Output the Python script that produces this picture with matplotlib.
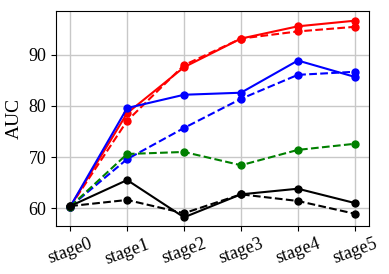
import matplotlib
matplotlib.use('Agg')
import matplotlib.pyplot as plt

stages = ['stage0', 'stage1', 'stage2', 'stage3', 'stage4', 'stage5']

red_solid = [60.3, 78.6, 87.6, 93.2, 95.6, 96.7]
red_dashed = [60.3, 77.1, 88.0, 93.2, 94.6, 95.5]
blue_solid = [60.3, 79.6, 82.2, 82.6, 88.9, 85.7]
blue_dashed = [60.3, 69.6, 75.7, 81.4, 86.1, 86.7]
green_dashed = [60.3, 70.6, 71.0, 68.4, 71.4, 72.6]
black_solid = [60.4, 65.5, 58.2, 62.7, 63.8, 61.0]
black_dashed = [60.4, 61.6, 59.0, 62.7, 61.4, 58.9]


def main():
	plt.rcParams['font.family'] = ['Liberation Serif', 'DejaVu Serif']
	fig = plt.figure(figsize=(3.89, 2.74), dpi=100)
	ax = fig.add_axes([56 / 389, 1 - 226 / 274, 313 / 389, 215 / 274])
	x = range(len(stages))

	ax.plot(x, red_solid, '-o', color='red', lw=1.5, ms=5)
	ax.plot(x, red_dashed, '--o', color='red', lw=1.5, ms=5)
	ax.plot(x, blue_solid, '-o', color='blue', lw=1.5, ms=5)
	ax.plot(x, blue_dashed, '--o', color='blue', lw=1.5, ms=5)
	ax.plot(x, green_dashed, '--o', color='green', lw=1.5, ms=5)
	ax.plot(x, black_solid, '-o', color='black', lw=1.5, ms=5)
	ax.plot(x, black_dashed, '--o', color='black', lw=1.5, ms=5)

	ax.set_ylim(56.5, 98.6)
	ax.set_yticks([60, 70, 80, 90])
	ax.set_xticks(list(x))
	ax.set_xticklabels(stages, rotation=20, fontsize=13)
	ax.tick_params(axis='y', labelsize=13)
	ax.set_ylabel('AUC', fontsize=14)
	ax.grid(True, color='#c8c8c8', lw=1)
	ax.set_axisbelow(True)

	fig.savefig('out.png', dpi=100)


if __name__ == '__main__':
	main()
